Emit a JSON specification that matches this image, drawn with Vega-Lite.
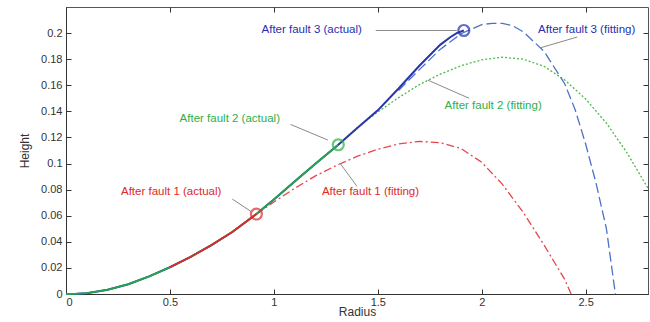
{
  "$schema": "https://vega.github.io/schema/vega-lite/v6.json",
  "width": 582,
  "height": 287,
  "autosize": {"type": "none"},
  "padding": {"left": 66, "top": 7, "right": 2, "bottom": 28},
  "background": "white",
  "config": {
    "view": {"stroke": "#555", "strokeWidth": 1},
    "font": "Liberation Sans",
    "axis": {"grid": false, "domainColor": "#333", "tickColor": "#333", "labelColor": "#333", "titleColor": "#333", "labelFont": "Liberation Sans", "titleFont": "Liberation Sans", "labelFontSize": 11, "titleFontSize": 12, "titleFontWeight": "normal"}
  },
  "datasets": {
    "curves": [
      {"s": "act3", "x": 0, "y": 0}, {"s": "act3", "x": 0.05, "y": 0.0001}, {"s": "act3", "x": 0.1, "y": 0.0006}, {"s": "act3", "x": 0.2, "y": 0.0032}, {"s": "act3", "x": 0.3, "y": 0.0075}, {"s": "act3", "x": 0.4, "y": 0.0135}, {"s": "act3", "x": 0.5, "y": 0.0205}, {"s": "act3", "x": 0.6, "y": 0.0285}, {"s": "act3", "x": 0.7, "y": 0.0375}, {"s": "act3", "x": 0.8, "y": 0.0475}, {"s": "act3", "x": 0.916, "y": 0.0613}, {"s": "act3", "x": 1.0, "y": 0.0725}, {"s": "act3", "x": 1.1, "y": 0.0862}, {"s": "act3", "x": 1.2, "y": 0.0998}, {"s": "act3", "x": 1.31, "y": 0.1144}, {"s": "act3", "x": 1.4, "y": 0.127}, {"s": "act3", "x": 1.5, "y": 0.1408}, {"s": "act3", "x": 1.6, "y": 0.1575}, {"s": "act3", "x": 1.7, "y": 0.175}, {"s": "act3", "x": 1.8, "y": 0.191}, {"s": "act3", "x": 1.85, "y": 0.197}, {"s": "act3", "x": 1.88, "y": 0.2}, {"s": "act3", "x": 1.914, "y": 0.202},
      {"s": "act2", "x": 0, "y": 0}, {"s": "act2", "x": 0.05, "y": 0.0001}, {"s": "act2", "x": 0.1, "y": 0.0006}, {"s": "act2", "x": 0.2, "y": 0.0032}, {"s": "act2", "x": 0.3, "y": 0.0075}, {"s": "act2", "x": 0.4, "y": 0.0135}, {"s": "act2", "x": 0.5, "y": 0.0205}, {"s": "act2", "x": 0.6, "y": 0.0285}, {"s": "act2", "x": 0.7, "y": 0.0375}, {"s": "act2", "x": 0.8, "y": 0.0475}, {"s": "act2", "x": 0.916, "y": 0.0613}, {"s": "act2", "x": 1.0, "y": 0.0725}, {"s": "act2", "x": 1.1, "y": 0.0862}, {"s": "act2", "x": 1.2, "y": 0.0998}, {"s": "act2", "x": 1.31, "y": 0.1144},
      {"s": "act1", "x": 0, "y": 0}, {"s": "act1", "x": 0.05, "y": 0.0001}, {"s": "act1", "x": 0.1, "y": 0.0006}, {"s": "act1", "x": 0.2, "y": 0.0032}, {"s": "act1", "x": 0.3, "y": 0.0075}, {"s": "act1", "x": 0.4, "y": 0.0135}, {"s": "act1", "x": 0.5, "y": 0.0205}, {"s": "act1", "x": 0.6, "y": 0.0285}, {"s": "act1", "x": 0.7, "y": 0.0375}, {"s": "act1", "x": 0.8, "y": 0.0475}, {"s": "act1", "x": 0.916, "y": 0.0613},
      {"s": "fit1", "x": 0.916, "y": 0.0613}, {"s": "fit1", "x": 1.0, "y": 0.0705}, {"s": "fit1", "x": 1.1, "y": 0.081}, {"s": "fit1", "x": 1.2, "y": 0.0905}, {"s": "fit1", "x": 1.3, "y": 0.0985}, {"s": "fit1", "x": 1.4, "y": 0.1055}, {"s": "fit1", "x": 1.5, "y": 0.111}, {"s": "fit1", "x": 1.6, "y": 0.115}, {"s": "fit1", "x": 1.7, "y": 0.117}, {"s": "fit1", "x": 1.8, "y": 0.116}, {"s": "fit1", "x": 1.9, "y": 0.1115}, {"s": "fit1", "x": 2.0, "y": 0.101}, {"s": "fit1", "x": 2.1, "y": 0.084}, {"s": "fit1", "x": 2.2, "y": 0.0625}, {"s": "fit1", "x": 2.3, "y": 0.0375}, {"s": "fit1", "x": 2.4, "y": 0.011}, {"s": "fit1", "x": 2.43, "y": 0},
      {"s": "fit2", "x": 1.31, "y": 0.1144}, {"s": "fit2", "x": 1.4, "y": 0.1275}, {"s": "fit2", "x": 1.5, "y": 0.1395}, {"s": "fit2", "x": 1.6, "y": 0.1505}, {"s": "fit2", "x": 1.7, "y": 0.1605}, {"s": "fit2", "x": 1.8, "y": 0.1685}, {"s": "fit2", "x": 1.9, "y": 0.175}, {"s": "fit2", "x": 2.0, "y": 0.1795}, {"s": "fit2", "x": 2.1, "y": 0.1815}, {"s": "fit2", "x": 2.2, "y": 0.18}, {"s": "fit2", "x": 2.3, "y": 0.1745}, {"s": "fit2", "x": 2.4, "y": 0.164}, {"s": "fit2", "x": 2.5, "y": 0.1495}, {"s": "fit2", "x": 2.6, "y": 0.131}, {"s": "fit2", "x": 2.7, "y": 0.108}, {"s": "fit2", "x": 2.8, "y": 0.081},
      {"s": "fit3", "x": 1.6, "y": 0.156}, {"s": "fit3", "x": 1.7, "y": 0.172}, {"s": "fit3", "x": 1.8, "y": 0.1875}, {"s": "fit3", "x": 1.9, "y": 0.1995}, {"s": "fit3", "x": 2.0, "y": 0.2065}, {"s": "fit3", "x": 2.05, "y": 0.2075}, {"s": "fit3", "x": 2.1, "y": 0.2075}, {"s": "fit3", "x": 2.15, "y": 0.2055}, {"s": "fit3", "x": 2.2, "y": 0.201}, {"s": "fit3", "x": 2.3, "y": 0.186}, {"s": "fit3", "x": 2.4, "y": 0.161}, {"s": "fit3", "x": 2.45, "y": 0.141}, {"s": "fit3", "x": 2.5, "y": 0.115}, {"s": "fit3", "x": 2.55, "y": 0.085}, {"s": "fit3", "x": 2.6, "y": 0.05}, {"s": "fit3", "x": 2.643, "y": 0}
    ],
    "marks": [
      {"s": "act1", "x": 0.916, "y": 0.0613},
      {"s": "act2", "x": 1.31, "y": 0.1144},
      {"s": "act3", "x": 1.914, "y": 0.202}
    ],
    "labels": [
      {"s": "act3", "x": 1.182, "y": 0.202, "t": "After fault 3 (actual)"},
      {"s": "fit3", "x": 2.505, "y": 0.202, "t": "After fault 3 (fitting)"},
      {"s": "fit2", "x": 2.055, "y": 0.1438, "t": "After fault 2 (fitting)"},
      {"s": "act2", "x": 0.788, "y": 0.134, "t": "After fault 2 (actual)"},
      {"s": "act1", "x": 0.506, "y": 0.0779, "t": "After fault 1 (actual)"},
      {"s": "fit1", "x": 1.465, "y": 0.078, "t": "After fault 1 (fitting)"}
    ],
    "leaders": [
      {"x": 1.49, "y": 0.202, "x2": 1.88, "y2": 0.202},
      {"x": 2.46, "y": 0.197, "x2": 2.28, "y2": 0.1886},
      {"x": 1.94, "y": 0.15, "x2": 1.74, "y2": 0.164},
      {"x": 1.08, "y": 0.13, "x2": 1.26, "y2": 0.118},
      {"x": 0.8, "y": 0.0728, "x2": 0.89, "y2": 0.0633},
      {"x": 1.4, "y": 0.0825, "x2": 1.32, "y2": 0.0999}
    ]
  },
  "resolve": {"axis": {"x": "independent", "y": "independent"}},
  "layer": [
    {
      "data": {"name": "curves"},
      "transform": [{"filter": "datum.s == 'fit1'"}],
      "mark": {"type": "line", "color": "#e8454a", "strokeWidth": 1.3, "strokeDash": [8, 3, 2, 3]},
      "encoding": {
        "x": {"field": "x", "type": "quantitative", "scale": {"domain": [0, 2.8], "nice": false}, "axis": {"title": "Radius", "values": [0, 0.5, 1, 1.5, 2, 2.5], "format": "~g", "tickSize": -5, "labelPadding": 7, "titlePadding": -1}},
        "y": {"field": "y", "type": "quantitative", "scale": {"domain": [0, 0.22], "nice": false}, "axis": {"title": "Height", "values": [0, 0.02, 0.04, 0.06, 0.08, 0.1, 0.12, 0.14, 0.16, 0.18, 0.2], "format": "~g", "tickSize": -5, "labelPadding": 9, "titlePadding": 9}},
        "order": {"field": "x", "type": "quantitative"}
      }
    },
    {
      "data": {"name": "curves"},
      "transform": [{"filter": "datum.s == 'fit2'"}],
      "mark": {"type": "line", "color": "#4cb84c", "strokeWidth": 1.3, "strokeDash": [2, 2]},
      "encoding": {
        "x": {"field": "x", "type": "quantitative", "scale": {"domain": [0, 2.8], "nice": false}, "axis": null},
        "y": {"field": "y", "type": "quantitative", "scale": {"domain": [0, 0.22], "nice": false}, "axis": null},
        "order": {"field": "x", "type": "quantitative"}
      }
    },
    {
      "data": {"name": "curves"},
      "transform": [{"filter": "datum.s == 'fit3'"}],
      "mark": {"type": "line", "color": "#4a72c8", "strokeWidth": 1.3, "strokeDash": [10, 4]},
      "encoding": {
        "x": {"field": "x", "type": "quantitative", "scale": {"domain": [0, 2.8], "nice": false}, "axis": null},
        "y": {"field": "y", "type": "quantitative", "scale": {"domain": [0, 0.22], "nice": false}, "axis": null},
        "order": {"field": "x", "type": "quantitative"}
      }
    },
    {
      "data": {"name": "curves"},
      "transform": [{"filter": "datum.s == 'act3'"}],
      "mark": {"type": "line", "color": "#2a35a8", "strokeWidth": 2},
      "encoding": {
        "x": {"field": "x", "type": "quantitative", "scale": {"domain": [0, 2.8], "nice": false}, "axis": null},
        "y": {"field": "y", "type": "quantitative", "scale": {"domain": [0, 0.22], "nice": false}, "axis": null},
        "order": {"field": "x", "type": "quantitative"}
      }
    },
    {
      "data": {"name": "curves"},
      "transform": [{"filter": "datum.s == 'act2'"}],
      "mark": {"type": "line", "color": "#22a848", "strokeWidth": 1.8},
      "encoding": {
        "x": {"field": "x", "type": "quantitative", "scale": {"domain": [0, 2.8], "nice": false}, "axis": null},
        "y": {"field": "y", "type": "quantitative", "scale": {"domain": [0, 0.22], "nice": false}, "axis": null},
        "order": {"field": "x", "type": "quantitative"}
      }
    },
    {
      "data": {"name": "curves"},
      "transform": [{"filter": "datum.s == 'act1' && datum.x >= 0.5"}],
      "mark": {"type": "line", "color": "#e02828", "strokeWidth": 1.8},
      "encoding": {
        "x": {"field": "x", "type": "quantitative", "scale": {"domain": [0, 2.8], "nice": false}, "axis": null},
        "y": {"field": "y", "type": "quantitative", "scale": {"domain": [0, 0.22], "nice": false}, "axis": null},
        "order": {"field": "x", "type": "quantitative"}
      }
    },
    {
      "data": {"name": "leaders"},
      "mark": {"type": "rule", "color": "#8a8a8a", "strokeWidth": 1},
      "encoding": {
        "x": {"field": "x", "type": "quantitative", "scale": {"domain": [0, 2.8], "nice": false}, "axis": null},
        "y": {"field": "y", "type": "quantitative", "scale": {"domain": [0, 0.22], "nice": false}, "axis": null},
        "x2": {"field": "x2"},
        "y2": {"field": "y2"}
      }
    },
    {
      "data": {"name": "marks"},
      "mark": {"type": "point", "shape": "circle", "filled": false, "size": 120, "strokeWidth": 2.2},
      "encoding": {
        "x": {"field": "x", "type": "quantitative", "scale": {"domain": [0, 2.8], "nice": false}, "axis": {"orient": "top", "title": null, "labels": false, "values": [0, 0.5, 1, 1.5, 2, 2.5], "tickSize": -5, "domain": false}},
        "y": {"field": "y", "type": "quantitative", "scale": {"domain": [0, 0.22], "nice": false}, "axis": {"orient": "right", "title": null, "labels": false, "values": [0, 0.02, 0.04, 0.06, 0.08, 0.1, 0.12, 0.14, 0.16, 0.18, 0.2], "tickSize": -5, "domain": false}},
        "color": {"field": "s", "type": "nominal", "scale": {"domain": ["act1", "act2", "act3"], "range": ["#e02828", "#2fae4a", "#1f2fb0"]}, "legend": null}
      }
    },
    {
      "data": {"name": "labels"},
      "mark": {"type": "text", "align": "center", "baseline": "middle", "fontSize": 11.5, "font": "Liberation Sans"},
      "encoding": {
        "x": {"field": "x", "type": "quantitative", "scale": {"domain": [0, 2.8], "nice": false}, "axis": null},
        "y": {"field": "y", "type": "quantitative", "scale": {"domain": [0, 0.22], "nice": false}, "axis": null},
        "text": {"field": "t"},
        "color": {"field": "s", "type": "nominal", "scale": {"domain": ["act1", "fit1", "act2", "fit2", "act3", "fit3"], "range": ["#e8403a", "#e8403a", "#3aaa3a", "#3aaa3a", "#3535b0", "#4040b8"]}, "legend": null}
      }
    }
  ]
}
